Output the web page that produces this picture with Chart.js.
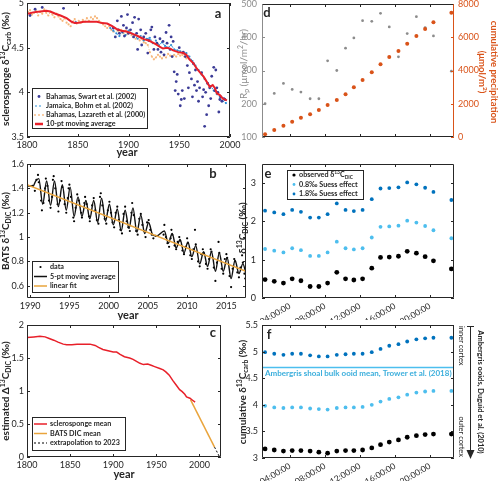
<!DOCTYPE html>
<html><head><meta charset="utf-8">
<script src="https://cdn.jsdelivr.net/npm/chart.js@4.4.1/dist/chart.umd.min.js"></script>
<style>
html,body{margin:0;padding:0;background:#fff;overflow:hidden}
#fig{position:relative;width:500px;height:481px;overflow:hidden;background:#fff}
#fig canvas{position:absolute}
</style></head><body>
<div id="fig">
<canvas id="pa" width="250" height="166" style="left:0;top:-6px"></canvas>
<canvas id="pb" width="250" height="165" style="left:0;top:155px"></canvas>
<canvas id="pc" width="250" height="166" style="left:0;top:315px"></canvas>
<canvas id="pd" width="270" height="166" style="left:230px;top:-6px"></canvas>
<canvas id="pe" width="270" height="165" style="left:230px;top:155px"></canvas>
<canvas id="pf" width="270" height="166" style="left:230px;top:315px"></canvas>
</div>
<script>
// ---------------- DATA ----------------
// panel a: sclerosponge d13C (year, permil)
const swart = [[1803,4.86],[1808,4.93],[1815,4.95],[1836,4.94],[1848,4.78],[1885,4.72],[1887,4.62],[1889,4.80],[1890,4.70],[1891,4.66],[1893,4.85],[1894,4.68],[1895,4.75],[1896,4.63],[1898,4.72],[1899,4.87],[1900,4.66],[1902,4.70],[1904,4.78],[1905,4.62],[1906,4.84],[1908,4.66],[1909,4.48],[1910,4.82],[1912,4.70],[1913,4.53],[1915,4.62],[1917,4.66],[1919,4.44],[1920,4.58],[1922,4.70],[1923,4.73],[1925,4.48],[1926,4.62],[1928,4.55],[1929,4.48],[1931,4.60],[1932,4.45],[1934,4.57],[1935,4.42],[1937,4.67],[1938,4.55],[1940,4.75],[1941,4.48],[1942,4.62],[1943,4.40],[1944,4.57],[1945,4.23],[1946,4.02],[1947,4.12],[1948,4.20],[1949,3.98],[1950,4.50],[1951,3.85],[1952,3.92],[1953,4.02],[1954,4.45],[1955,3.93],[1956,4.40],[1958,4.30],[1959,4.05],[1960,4.22],[1962,4.15],[1963,3.95],[1964,4.32],[1965,4.08],[1966,4.25],[1967,4.02],[1968,4.12],[1969,3.90],[1970,4.05],[1972,4.22],[1973,3.95],[1974,4.03],[1975,3.62],[1976,4.00],[1977,3.75],[1978,4.10],[1979,3.85],[1980,4.05],[1981,3.93],[1982,4.18],[1984,4.28],[1985,4.02],[1986,4.25],[1987,4.05],[1988,4.00],[1989,3.78],[1990,3.92],[1991,3.95],[1992,3.90],[1994,3.93],[1995,3.92]];
const bohm = [[1882,4.72],[1885,4.69],[1888,4.66],[1891,4.63],[1894,4.67],[1897,4.64],[1900,4.69],[1903,4.66],[1906,4.64],[1909,4.60],[1912,4.63],[1915,4.58],[1918,4.60],[1921,4.61],[1924,4.55],[1927,4.58],[1930,4.53],[1933,4.56],[1936,4.52],[1939,4.50],[1942,4.53],[1945,4.48],[1948,4.47],[1951,4.46],[1954,4.44],[1957,4.44],[1960,4.40],[1963,4.35],[1966,4.30],[1969,4.25],[1972,4.20],[1975,4.15],[1978,4.10],[1981,4.07],[1984,4.02],[1987,3.98],[1990,3.95],[1993,3.90],[1996,3.88]];
const lazareth = [[1801,4.90],[1803,4.92],[1805,4.87],[1807,4.89],[1809,4.91],[1811,4.86],[1813,4.90],[1815,4.88],[1817,4.93],[1819,4.89],[1821,4.86],[1823,4.90],[1825,4.87],[1827,4.84],[1829,4.88],[1831,4.85],[1833,4.82],[1835,4.80],[1837,4.83],[1839,4.78],[1841,4.76],[1843,4.74],[1845,4.79],[1847,4.82],[1849,4.77],[1851,4.80],[1853,4.78],[1855,4.81],[1857,4.79],[1859,4.83],[1861,4.80],[1863,4.84],[1865,4.82],[1867,4.85],[1869,4.83],[1871,4.80],[1873,4.78],[1875,4.76],[1877,4.74],[1879,4.72],[1881,4.74],[1883,4.70],[1885,4.68],[1887,4.72],[1889,4.69],[1891,4.67],[1893,4.70],[1895,4.66],[1897,4.69],[1899,4.65],[1901,4.68],[1903,4.64],[1905,4.62],[1907,4.60],[1909,4.63],[1911,4.58],[1913,4.60],[1915,4.56],[1917,4.55],[1919,4.53],[1921,4.45],[1923,4.40],[1925,4.37],[1927,4.39],[1929,4.42],[1931,4.40],[1933,4.38],[1935,4.41],[1937,4.39],[1939,4.43],[1941,4.41],[1943,4.40],[1945,4.42],[1947,4.40],[1949,4.43],[1951,4.41],[1953,4.42],[1955,4.40],[1957,4.38]];
const movAvg10 = [[1801,4.88],[1806,4.895],[1813,4.905],[1819,4.914],[1823,4.905],[1828,4.88],[1833,4.86],[1839,4.83],[1844,4.79],[1847,4.775],[1851,4.78],[1856,4.79],[1862,4.79],[1869,4.79],[1874,4.775],[1879,4.77],[1884,4.74],[1888,4.71],[1893,4.69],[1898,4.68],[1903,4.66],[1907,4.64],[1910,4.625],[1915,4.595],[1920,4.58],[1925,4.55],[1928,4.53],[1931,4.51],[1934,4.49],[1938,4.50],[1941,4.49],[1944,4.47],[1949,4.45],[1954,4.44],[1957,4.42],[1960,4.37],[1964,4.325],[1967,4.27],[1970,4.23],[1974,4.175],[1977,4.12],[1980,4.06],[1983,4.08],[1985,4.05],[1987,3.99],[1990,3.97],[1993,3.93],[1997,3.91]];

// panel b: BATS d13C DIC
const batsData = [[1990.3,1.42],[1990.6,1.38],[1990.8,1.47],[1991.0,1.51],[1991.1,1.45],[1991.4,1.30],[1991.5,1.22],[1991.7,1.28],[1991.9,1.40],[1992.0,1.48],[1992.2,1.42],[1992.4,1.30],[1992.6,1.24],[1992.8,1.33],[1992.9,1.47],[1993.0,1.50],[1993.2,1.40],[1993.5,1.27],[1993.6,1.21],[1993.8,1.30],[1994.0,1.46],[1994.1,1.41],[1994.4,1.27],[1994.6,1.20],[1994.8,1.32],[1994.9,1.40],[1995.0,1.43],[1995.2,1.33],[1995.5,1.16],[1995.6,1.13],[1995.8,1.24],[1996.0,1.35],[1996.2,1.30],[1996.5,1.20],[1996.6,1.16],[1996.9,1.28],[1997.0,1.33],[1997.2,1.27],[1997.5,1.17],[1997.6,1.13],[1997.9,1.26],[1998.1,1.32],[1998.3,1.22],[1998.5,1.14],[1998.7,1.11],[1998.9,1.33],[1999.0,1.36],[1999.2,1.26],[1999.5,1.15],[1999.7,1.11],[1999.9,1.22],[2000.1,1.29],[2000.3,1.20],[2000.5,1.12],[2000.7,1.08],[2000.9,1.20],[2001.1,1.25],[2001.3,1.14],[2001.5,1.06],[2001.7,1.03],[2001.9,1.19],[2002.1,1.25],[2002.3,1.13],[2002.5,1.08],[2002.7,1.05],[2002.9,1.20],[2003.0,1.28],[2003.2,1.18],[2003.5,1.05],[2003.7,1.02],[2003.9,1.15],[2004.1,1.19],[2004.3,1.10],[2004.5,1.05],[2004.7,1.00],[2004.9,1.12],[2005.1,1.14],[2005.3,1.06],[2005.5,1.02],[2005.7,0.99],[2006.0,1.01],[2007.0,1.02],[2007.1,1.10],[2007.3,1.00],[2007.5,0.95],[2007.7,0.92],[2007.9,0.99],[2008.0,1.06],[2008.1,1.02],[2008.4,0.93],[2008.6,0.90],[2008.8,0.96],[2009.0,1.00],[2009.1,0.97],[2009.4,0.89],[2009.6,0.86],[2009.8,0.92],[2010.0,0.99],[2010.1,0.95],[2010.4,0.85],[2010.6,0.82],[2010.8,0.90],[2011.0,1.06],[2011.1,0.94],[2011.4,0.80],[2011.6,0.76],[2011.8,0.86],[2012.0,0.90],[2012.1,0.87],[2012.4,0.78],[2012.6,0.74],[2012.8,0.82],[2013.0,0.90],[2013.1,0.88],[2013.4,0.75],[2013.6,0.64],[2013.8,0.79],[2014.0,0.96],[2014.1,0.87],[2014.4,0.74],[2014.6,0.70],[2014.8,0.82],[2015.0,0.86],[2015.1,0.83],[2015.4,0.68],[2015.6,0.59],[2015.8,0.74],[2016.0,0.82],[2016.1,0.80],[2016.4,0.71],[2016.6,0.67],[2016.8,0.75],[2017.0,0.85],[2017.1,0.79],[2017.3,0.70],[2017.4,0.66]];
const batsAvg5 = [[1989.6,1.42],[1990.4,1.42],[1990.7,1.46],[1991.1,1.48],[1991.6,1.27],[1992.1,1.46],[1992.6,1.26],[1993.1,1.46],[1993.6,1.25],[1994.1,1.43],[1994.6,1.22],[1995.1,1.41],[1995.6,1.17],[1996.1,1.33],[1996.6,1.17],[1997.1,1.30],[1997.6,1.15],[1998.1,1.30],[1998.6,1.12],[1999.1,1.32],[1999.6,1.13],[2000.1,1.27],[2000.6,1.10],[2001.1,1.23],[2001.6,1.05],[2002.1,1.22],[2002.6,1.07],[2003.1,1.24],[2003.6,1.04],[2004.1,1.18],[2004.6,1.03],[2005.1,1.12],[2005.6,1.02],[2006.1,1.01],[2007.1,1.05],[2007.6,0.95],[2008.1,1.03],[2008.6,0.91],[2009.1,0.98],[2009.6,0.87],[2010.1,0.96],[2010.6,0.84],[2011.1,0.93],[2011.6,0.78],[2012.1,0.88],[2012.6,0.76],[2013.1,0.88],[2013.6,0.72],[2014.1,0.87],[2014.6,0.72],[2015.1,0.83],[2015.6,0.66],[2016.1,0.81],[2016.6,0.70],[2017.1,0.78],[2017.5,0.70]];
const batsFit = [[1989.6,1.43],[2017.5,0.72]];

// panel c: estimated Delta13C DIC
const spongeMean = [[1800,1.81],[1808,1.82],[1815,1.83],[1821,1.82],[1825,1.80],[1831,1.77],[1836,1.74],[1842,1.71],[1846,1.70],[1852,1.70],[1858,1.71],[1865,1.71],[1873,1.71],[1879,1.69],[1883,1.66],[1888,1.63],[1894,1.61],[1900,1.59],[1904,1.59],[1908,1.555],[1913,1.52],[1919,1.50],[1923,1.48],[1927,1.45],[1931,1.42],[1935,1.40],[1940,1.41],[1944,1.39],[1948,1.37],[1954,1.34],[1958,1.32],[1961,1.29],[1965,1.24],[1969,1.16],[1973,1.09],[1977,1.02],[1980,0.99],[1983,0.95],[1985,0.91],[1989,0.89],[1992,0.86],[1995,0.83]];
const batsMean = [[1989.6,0.87],[2017.5,0.15]];
const extrap2023 = [[2017.5,0.15],[2023,0.01]];

// panels d-f: hourly samples (hour of day)
const hours = [1.15,2.2,3.25,4.25,5.25,6.3,7.3,8.3,9.35,10.35,11.3,12.3,13.35,14.35,15.35,16.4,17.4,18.45,19.45,20.4,22.45];
const rateP = [200,231,261,243,235,215,215,329,300,367,398,450,448,472,431,341,411,462,429,404,298];
const cumPrecip = [162,421,680,920,1160,1363,1624,1925,2226,2566,2987,3429,3890,4371,4812,5173,5614,6075,6497,6898,7479];
const obsDIC = [0.48,0.435,0.39,0.50,0.45,0.30,0.30,0.39,0.67,0.50,0.47,0.50,0.78,1.06,1.07,1.09,1.22,1.17,1.08,0.97,0.76];
const suess08 = [1.28,1.235,1.19,1.30,1.25,1.10,1.10,1.19,1.47,1.30,1.27,1.30,1.58,1.86,1.87,1.89,2.02,1.97,1.88,1.77,1.56];
const suess18 = [2.28,2.235,2.19,2.30,2.25,2.10,2.10,2.19,2.47,2.30,2.27,2.30,2.58,2.86,2.87,2.89,3.02,2.97,2.88,2.77,2.56];
const cumObs = [3.17,3.15,3.13,3.14,3.14,3.13,3.11,3.09,3.13,3.14,3.14,3.15,3.19,3.25,3.30,3.34,3.39,3.42,3.44,3.45,3.45];
const cum08 = [3.98,3.95,3.94,3.95,3.95,3.93,3.92,3.91,3.94,3.95,3.95,3.96,4.00,4.06,4.11,4.14,4.19,4.23,4.25,4.26,4.26];
const cum18 = [4.99,4.96,4.94,4.96,4.96,4.93,4.91,4.91,4.94,4.95,4.96,4.96,4.99,5.05,5.11,5.14,5.19,5.23,5.25,5.26,5.26];
const troweMean = 4.70;

// ticks
const yearTicks = [1800,1850,1900,1950,2000];
const batsYearTicks = [1990,1995,2000,2005,2010,2015];
const aTicks = [3.5,4,4.5,5];
const bTicks = [0.6,0.8,1,1.2,1.4,1.6];
const cTicks = [0,0.5,1,1.5,2];
const dLeftTicks = [100,200,300,400,500];
const dRightTicks = [0,2000,4000,6000,8000];
const eTicks = [0,1,2,3];
const fTicks = [3,3.5,4,4.5,5,5.5];
const timeTicks = [4,8,12,16,20];
const timeLabels = ['04:00:00','08:00:00','12:00:00','16:00:00','20:00:00'];

// ---------------- STYLE / HELPERS ----------------
const FONT = 'Lato, "Open Sans", sans-serif';
const INK = '#262626';
const GRAY = '#8c8c8c';
const ORANGE = '#d95319';
const LBLUE = '#4dbeee';
const DBLUE = '#0072bd';
Chart.defaults.font.family = FONT;
Chart.defaults.color = INK;

const P = a => a.map(([x,y]) => ({x,y}));
const Z = (xs,ys) => xs.map((x,i) => ({x, y: ys[i]}));
function pts(data,color,r,extra){return Object.assign({data, showLine:false, pointRadius:r, pointBackgroundColor:color, pointBorderWidth:0, backgroundColor:color, borderColor:color}, extra||{});}
function ln(data,color,w,extra){return Object.assign({data, showLine:true, pointRadius:0, borderColor:color, borderWidth:w, fill:false, tension:0}, extra||{});}

function axis(min,max,tickVals,size,o){
  o = o || {};
  return {
    type:'linear', min, max, position:o.pos,
    grid:{display:false, drawTicks:false}, border:{display:false},
    ticks:{display:o.labels!==false, color:o.color||INK, font:{size:o.fs||9, family:FONT}, padding:o.pad==null?3:o.pad,
      autoSkip:false, minRotation:o.rot||0, maxRotation:o.rot||0,
      callback:(v,i) => o.names ? o.names[i] : String(Math.round(v*100)/100)},
    afterBuildTicks: s => { s.ticks = tickVals.map(v => ({value:v})); },
    afterFit: s => { if (s.isHorizontal()) s.height = size; else s.width = size;
      s.paddingTop=0; s.paddingBottom=0; s.paddingLeft=0; s.paddingRight=0; }
  };
}

function rich(ctx, parts, x, y, o){
  const size = o.size||9, wt = o.weight||'normal';
  const fnt = s => wt + ' ' + s + 'px ' + FONT;
  const segs = parts.map(p => { const t = Array.isArray(p)?p[0]:p, k = Array.isArray(p)?p[1]:''; const s = k ? size*0.68 : size; ctx.font = fnt(s); return {t,k,s,w:ctx.measureText(t).width}; });
  const W = segs.reduce((a,b) => a+b.w, 0);
  ctx.save(); ctx.translate(x,y); if (o.rot) ctx.rotate(o.rot);
  ctx.fillStyle = o.color||INK; ctx.textBaseline='middle'; ctx.textAlign='left';
  let cx = o.align==='center' ? -W/2 : (o.align==='right' ? -W : 0);
  for (const s of segs){ ctx.font = fnt(s.s); const dy = s.k==='sup' ? -size*0.33 : (s.k==='sub' ? size*0.3 : 0); ctx.fillText(s.t, cx, dy); cx += s.w; }
  ctx.restore();
}
function seg(ctx,x1,y1,x2,y2,c,w,dash){ctx.save();ctx.strokeStyle=c;ctx.lineWidth=w||1;ctx.setLineDash(dash||[]);ctx.beginPath();ctx.moveTo(x1,y1);ctx.lineTo(x2,y2);ctx.stroke();ctx.restore();}
function dot(ctx,x,y,r,c){ctx.save();ctx.fillStyle=c;ctx.beginPath();ctx.arc(x,y,r,0,Math.PI*2);ctx.fill();ctx.restore();}

function drawLegend(ctx,L){
  const [x,y,w,h] = L.box;
  ctx.save(); ctx.fillStyle='#fff'; ctx.fillRect(x,y,w,h);
  ctx.strokeStyle=INK; ctx.lineWidth=1; ctx.strokeRect(x+0.5,y+0.5,w,h); ctx.restore();
  L.items.forEach(it => {
    const m = it.m;
    if (m.type==='dot') dot(ctx,(L.m0+L.m1)/2,it.y,m.r,m.c);
    else if (m.type==='dots') [L.m0,(L.m0+L.m1)/2,L.m1].forEach(xx => dot(ctx,xx,it.y,m.r,m.c));
    else seg(ctx,L.m0,it.y,L.m1,it.y,m.c,m.w,m.dash);
    rich(ctx,it.parts,L.tx,it.y,{size:L.size,color:INK,weight:L.weight});
  });
}

const DECO = {};
Chart.register({id:'deco', afterDraw(chart){
  const d = DECO[chart.canvas.id]; if (!d) return;
  const ctx = chart.ctx, A = chart.chartArea;
  ctx.save();
  (d.ticks||[]).forEach(t => {
    const s = chart.scales[t.id];
    s.ticks.forEach(tk => {
      const p = Math.round(s.getPixelForValue(tk.value))+0.5;
      t.sides.forEach(side => {
        if (side==='bottom') seg(ctx,p,A.bottom,p,A.bottom-3,t.c);
        if (side==='top') seg(ctx,p,A.top,p,A.top+3,t.c);
        if (side==='left') seg(ctx,A.left,p,A.left+3,p,t.c);
        if (side==='right') seg(ctx,A.right,p,A.right-3,p,t.c);
      });
    });
  });
  const f = d.frame || {top:INK,bottom:INK,left:INK,right:INK};
  const L=Math.round(A.left)+0.5, R=Math.round(A.right)-0.5, T=Math.round(A.top)+0.5, B=Math.round(A.bottom)-0.5;
  seg(ctx,L,T,R,T,f.top); seg(ctx,L,B,R,B,f.bottom); seg(ctx,L,T,L,B,f.left); seg(ctx,R,T,R,B,f.right);
  ctx.translate(-d.ox,-d.oy);
  if (d.legend) drawLegend(ctx,d.legend);
  (d.texts||[]).forEach(t => rich(ctx,t.parts,t.x,t.y,t));
  if (d.extra) d.extra(ctx);
  ctx.restore();
}});

function mk(id,ox,oy,datasets,scales,pad,deco){
  DECO[id] = Object.assign({ox,oy},deco);
  return new Chart(document.getElementById(id), {
    type:'scatter', data:{datasets},
    options:{responsive:false, animation:false, events:[], layout:{padding:pad},
      plugins:{legend:{display:false}, tooltip:{enabled:false}}, scales}
  });
}
const V = -Math.PI/2, CW = Math.PI/2;
const xyTicks = (c) => [{id:'x',sides:['top','bottom'],c:c||INK},{id:'y',sides:['left','right'],c:c||INK}];
const letter = (t,x,y) => ({parts:[t],x,y,size:13,weight:'bold',align:'center'});
const LEG = 7.2;

// ---------------- PANEL a ----------------
const C_SW='#3b3b96', C_BO='#2f8fd6', C_LA='#f6b77c', C_RED='#e8202a';
mk('pa',0,-6,[
  ln(P(movAvg10),C_RED,2),
  pts(P(swart),C_SW,1.4),
  ln(P(bohm),C_BO,1,{borderDash:[2,2],pointRadius:1.1,pointBackgroundColor:C_BO,pointBorderWidth:0}),
  ln(P(lazareth),C_LA,1,{borderDash:[1,2],pointRadius:1.1,pointBackgroundColor:C_LA,pointBorderWidth:0})
],{x:axis(1800,2000,yearTicks,23),y:axis(3.5,5,aTicks,27,{pos:'left'})},
{left:0,top:9,right:20,bottom:0},
{ticks:xyTicks(),
 legend:{box:[32,88,115,40],m0:35,m1:43,tx:46,size:LEG,weight:'bold',items:[
   {y:96.5,m:{type:'dot',r:1.4,c:C_SW},parts:['Bahamas, Swart et al. (2002)']},
   {y:106,m:{type:'line',c:C_BO,w:1,dash:[2,2]},parts:['Jamaica, Bohm et al. (2002)']},
   {y:115,m:{type:'dots',r:0.9,c:C_LA},parts:['Bahamas, Lazareth et al. (2000)']},
   {y:124,m:{type:'line',c:C_RED,w:2.5},parts:['10-pt moving average']}]},
 texts:[
   {parts:['sclerosponge δ',['13','sup'],'C',['carb','sub'],' (‰)'],x:6,y:69,rot:V,size:10,weight:'bold',align:'center'},
   {parts:['year'],x:127,y:152,size:11,weight:'bold',align:'center'},
   letter('a',218,14)]});

// ---------------- PANEL b ----------------
const C_FIT='#e9a43c';
mk('pb',0,155,[
  ln(P(batsFit),C_FIT,1.5),
  ln(P(batsAvg5),'#111',1.4,{cubicInterpolationMode:'monotone'}),
  pts(P(batsData),'#000',1.1)
],{x:axis(1989.6,2017.5,batsYearTicks,22),y:axis(0.5,1.6,bTicks,27,{pos:'left'})},
{left:0,top:9,right:2,bottom:0},
{ticks:xyTicks(),
 legend:{box:[32,261,86,31],m0:34,m1:47,tx:50,size:LEG,weight:'bold',items:[
   {y:267,m:{type:'dot',r:1.1,c:'#000'},parts:['data']},
   {y:276.5,m:{type:'line',c:'#111',w:1.5},parts:['5-pt moving average']},
   {y:286,m:{type:'line',c:C_FIT,w:1.5},parts:['linear fit']}]},
 texts:[
   {parts:['BATS δ',['13','sup'],'C',['DIC','sub'],' (‰)'],x:6,y:231,rot:V,size:10,weight:'bold',align:'center'},
   {parts:['year'],x:128,y:315,size:11,weight:'bold',align:'center'},
   letter('b',213,174)]});

// ---------------- PANEL c ----------------
mk('pc',0,315,[
  ln(P(spongeMean),C_RED,1.5),
  ln(P(batsMean),C_FIT,1.5),
  ln(P(extrap2023),'#000',1,{borderDash:[2,2]})
],{x:axis(1800,2025,yearTicks,24),y:axis(0,2,cTicks,27,{pos:'left'})},
{left:0,top:10,right:29,bottom:0},
{ticks:xyTicks(),
 legend:{box:[32,417,93,33],m0:34,m1:47,tx:50,size:LEG,weight:'bold',items:[
   {y:424,m:{type:'line',c:C_RED,w:1.5},parts:['sclerosponge mean']},
   {y:433.5,m:{type:'line',c:C_FIT,w:1.5},parts:['BATS DIC mean']},
   {y:443,m:{type:'line',c:'#000',w:1,dash:[2,2]},parts:['extrapolation to 2023']}]},
 texts:[
   {parts:['estimated Δ',['13','sup'],'C',['DIC','sub'],' (‰)'],x:6,y:391,rot:V,size:10,weight:'bold',align:'center'},
   {parts:['year'],x:124,y:474,size:11,weight:'bold',align:'center'},
   letter('c',213,333)]});

// ---------------- PANEL d ----------------
const dScales = {
  x: axis(0.8,22.75,timeTicks,23,{labels:false}),
  yl: Object.assign(axis(100,500,dLeftTicks,22,{pos:'left',color:GRAY,pad:5}),{axis:'y'}),
  yr: Object.assign(axis(0,8000,dRightTicks,46,{pos:'right',color:ORANGE,pad:4}),{axis:'y'})
};
mk('pd',230,-6,[
  pts(Z(hours,cumPrecip),ORANGE,2,{yAxisID:'yr'}),
  pts(Z(hours,rateP),GRAY,1.4,{yAxisID:'yl'})
],dScales,{left:10,top:10,right:0,bottom:0},
{frame:{top:INK,bottom:INK,left:GRAY,right:ORANGE},
 ticks:[{id:'x',sides:['top','bottom'],c:INK},{id:'yl',sides:['left'],c:GRAY},{id:'yr',sides:['right'],c:ORANGE}],
 texts:[
   {parts:['R',['p','sub'],' (μmol/m',['2','sup'],'/hr)'],x:244,y:64,rot:V,size:10,color:GRAY,align:'center'},
   {parts:['cumulative precipitation'],x:494,y:72,rot:CW,size:9.5,weight:'bold',color:ORANGE,align:'center'},
   {parts:['(μmol/m',['2','sup'],')'],x:482,y:72,rot:CW,size:9.5,weight:'bold',color:ORANGE,align:'center'},
   letter('d',267,13)]});

// ---------------- PANEL e ----------------
mk('pe',230,155,[
  pts(Z(hours,obsDIC),'#000',2.4),
  pts(Z(hours,suess08),LBLUE,1.9),
  pts(Z(hours,suess18),DBLUE,1.9)
],{x:axis(0.8,22.75,timeTicks,22,{rot:30,names:timeLabels,fs:8.5}),y:axis(0,3.5,eTicks,22,{pos:'left',pad:6})},
{left:10,top:9,right:46,bottom:0},
{ticks:xyTicks(),
 legend:{box:[287,170,76,29],m0:292,m1:296,tx:299,size:LEG,weight:'bold',items:[
   {y:175,m:{type:'dot',r:1.6,c:'#000'},parts:['observed δ',['13','sup'],'C',['DIC','sub']]},
   {y:184.5,m:{type:'dot',r:1.4,c:LBLUE},parts:['0.8‰ Suess effect']},
   {y:194,m:{type:'dot',r:1.4,c:DBLUE},parts:['1.8‰ Suess effect']}]},
 texts:[
   {parts:['δ',['13','sup'],'C',['DIC','sub'],' (‰)'],x:243,y:228,rot:V,size:10,weight:'bold',align:'center'},
   letter('e',268,174)]});

// ---------------- PANEL f ----------------
const fX0 = 0.8, fX1 = 22.75;
mk('pf',230,315,[
  pts(Z(hours,cumObs),'#000',2.4),
  pts(Z(hours,cum08),LBLUE,1.9),
  pts(Z(hours,cum18),DBLUE,1.9),
  ln([{x:fX0,y:troweMean},{x:fX1,y:troweMean}],LBLUE,1.5)
],{x:axis(fX0,fX1,timeTicks,23,{rot:30,names:timeLabels,fs:8.5}),y:axis(3,5.5,fTicks,22,{pos:'left',pad:4})},
{left:10,top:10,right:46,bottom:0},
{ticks:xyTicks(),
 texts:[
   {parts:['cumulative δ',['13','sup'],'C',['carb','sub'],' (‰)'],x:243,y:392,rot:V,size:10,weight:'bold',align:'center'},
   {parts:['Ambergris shoal bulk ooid mean, Trower et al. (2018)'],x:265,y:373,size:8,weight:'bold',color:'#3aaedc'},
   {parts:['inner cortex'],x:461,y:326,rot:CW,size:7.5},
   {parts:['outer cortex'],x:461,y:457,rot:CW,size:7.5,align:'right'},
   {parts:['Ambergris ooids, Duguid et al. (2010)'],x:480,y:392,rot:CW,size:7.5,weight:'bold',align:'center'},
   letter('f',269,335)],
 extra: ctx => {
   seg(ctx,470.5,326,470.5,452,INK,1);
   seg(ctx,467,326.5,474,326.5,INK,1);
   ctx.save(); ctx.fillStyle=INK; ctx.beginPath(); ctx.moveTo(466.5,450); ctx.lineTo(474.5,450); ctx.lineTo(470.5,459); ctx.closePath(); ctx.fill(); ctx.restore();
 }});
</script>
</body></html>
